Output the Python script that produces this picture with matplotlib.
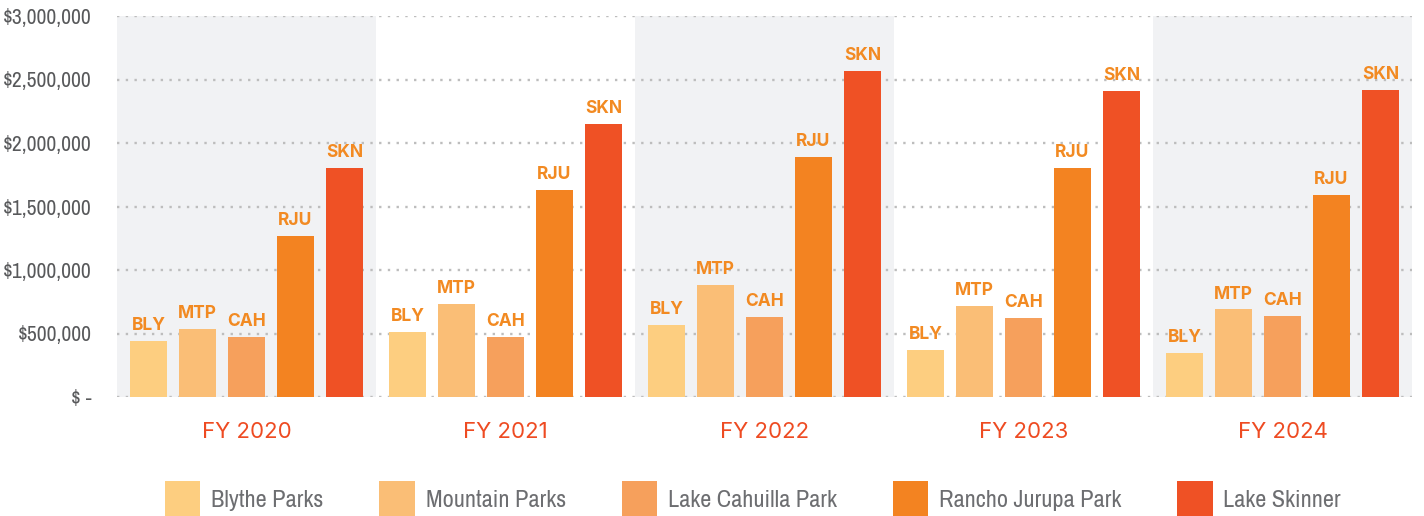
import numpy as np
import matplotlib.pyplot as plt
from matplotlib import font_manager

years = ["FY 2020", "FY 2021", "FY 2022", "FY 2023", "FY 2024"]
parks = ["Blythe Parks", "Mountain Parks", "Lake Cahuilla Park", "Rancho Jurupa Park", "Lake Skinner"]
codes = ["BLY", "MTP", "CAH", "RJU", "SKN"]
colors = ["#FDCE80", "#FABE76", "#F6A05C", "#F38321", "#EF5125"]

bly = [443000, 508000, 566000, 371000, 347000]
mtp = [532000, 730000, 885000, 713000, 689000]
cah = [476000, 476000, 631000, 623000, 640000]
rju = [1270000, 1630000, 1887000, 1806000, 1590000]
skn = [1800000, 2150000, 2570000, 2410000, 2420000]
series = [bly, mtp, cah, rju, skn]

yticks = [0, 500000, 1000000, 1500000, 2000000, 2500000, 3000000]
ytick_labels = ["$ -", "$500,000", "$1,000,000", "$1,500,000", "$2,000,000", "$2,500,000", "$3,000,000"]

# look for a narrow face for the axis / legend text
fonts = font_manager.fontManager.ttflist
names = {f.name for f in fonts}
narrow = {"family": "Roboto", "stretch": "normal", "scale": 0.88}
for f in fonts:
    if "Narrow" in f.name or "Condensed" in f.name:
        narrow = {"family": f.name, "stretch": "normal", "scale": 1.0}
        break
else:
    if any(f.name == "DejaVu Sans" and f.stretch == "condensed" for f in fonts):
        narrow = {"family": "DejaVu Sans", "stretch": "condensed", "scale": 0.95}
wide = "Inter" if "Inter" in names else "DejaVu Sans"

fig = plt.figure(figsize=(14.24, 5.16), dpi=100)
ax = fig.add_axes([117 / 1424, 1 - 397 / 516, (1412 - 117) / 1424, (397 - 16) / 516])

x = np.arange(len(years))
step = 0.189
width = 0.143

for i in range(0, len(years), 2):
    ax.axvspan(i - 0.5, i + 0.5, ymin=0, ymax=1, color="#F1F2F4", zorder=0, lw=0)

for y in yticks:
    ax.axhline(y, color="#BDBDBD", lw=1.7, ls=(0, (1, 2.7)), zorder=1)

for k, vals in enumerate(series):
    pos = x + (k - 2) * step
    ax.bar(pos, vals, width, color=colors[k], label=parks[k], zorder=2)
    for p, v in zip(pos, vals):
        ax.text(p, v + 55000, codes[k], ha="center", va="bottom", fontsize=12.5,
                fontweight="bold", color="#F28A22", family=wide, zorder=3)

ax.set_xlim(-0.5, 4.5)
ax.set_ylim(0, 3000000)
ax.set_yticks(yticks)
ax.set_yticklabels(ytick_labels, family=narrow["family"], stretch=narrow["stretch"],
                   fontsize=15.5 * narrow["scale"], color="#58595B")
ax.set_xticks(x)
ax.set_xticklabels(years, family=wide, fontsize=16, color="#EE4B22")
ax.tick_params(axis="both", length=0)
ax.tick_params(axis="y", pad=18)
ax.tick_params(axis="x", pad=18)
for s in ax.spines.values():
    s.set_visible(False)

leg = fig.legend(loc="center", bbox_to_anchor=(753 / 1424, 1 - 499 / 516), ncol=5,
                 frameon=False, handlelength=1.45, handleheight=1.9, handletextpad=0.45,
                 columnspacing=2.3,
                 prop={"family": narrow["family"], "stretch": narrow["stretch"],
                       "size": 17.5 * narrow["scale"]})
for t in leg.get_texts():
    t.set_color("#6D6E71")

fig.savefig("out.png", dpi=100)
